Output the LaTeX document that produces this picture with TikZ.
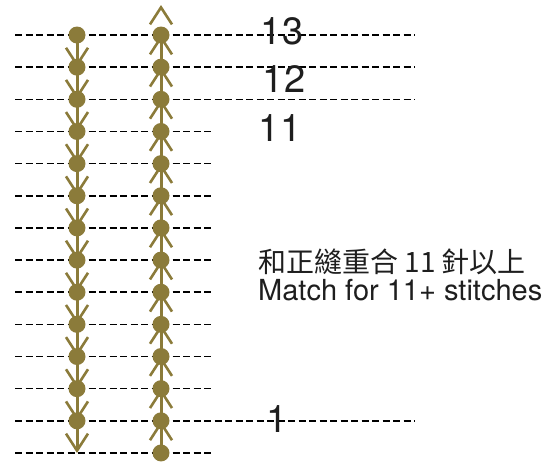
\documentclass[tikz,border=0pt]{standalone}
\usepackage{fontspec}
\setmainfont{TeX Gyre Heros}
\newfontfamily\cjkfont{Noto Sans CJK TC}
\usetikzlibrary{arrows.meta,backgrounds}
\definecolor{StitchOlive}{HTML}{8B7B3A}
\definecolor{StitchInk}{HTML}{1E1E1E}

\begin{document}
\begin{tikzpicture}[x=1pt,y=-1pt,
    stitchdot/.style={circle,fill=StitchOlive,inner sep=0pt,minimum size=17pt},
    seam/.style={
      draw=StitchOlive,
      line width=3pt,
      -{Straight Barb[length=17pt,width=22pt,line width=2.6pt]}
    },
    rowline/.style={draw=black,line width=1.6pt,dash pattern=on 7pt off 3.5pt},
    rowlabel/.style={text=StitchInk,inner sep=0pt,font=\fontsize{38}{40}\selectfont}
  ]

    \useasboundingbox (0,0) rectangle (554,464);

    % rows of the seam
    \foreach \i/\xe in {
      0/415,1/415,2/415,3/213,4/213,5/213,6/213,
      7/213,8/213,9/213,10/213,11/213,12/415,13/213
    }{
      \pgfmathsetmacro{\yy}{35+32.15*\i}
      \coordinate (W\i) at (15,\yy);
      \coordinate (E\i) at (\xe,\yy);
    }

    % stitches, left and right
    \foreach \i in {0,...,12}{
      \pgfmathsetmacro{\yy}{35+32.15*\i}
      \node[stitchdot] (L\i) at (77,\yy) {};
    }
    \foreach \i in {0,...,13}{
      \pgfmathsetmacro{\yy}{35+32.15*\i}
      \node[stitchdot] (R\i) at (161,\yy) {};
    }
    \coordinate (Lend) at (77,453);
    \coordinate (Rtop) at (161,5);

    \begin{scope}[on background layer]
      \foreach \i in {0,...,13}
        \draw[rowline] (W\i) -- (E\i);

      \foreach \i [evaluate=\i as \j using int(\i+1)] in {0,...,11}
        \draw[seam] (L\i.center) -- (L\j.center);
      \draw[seam] (L12.center) -- (Lend);

      \foreach \i [evaluate=\i as \j using int(\i+1)] in {0,...,12}
        \draw[seam] (R\j.center) -- (R\i.center);
      \draw[seam,shorten <=26pt] (R0.center) -- (Rtop);
    \end{scope}

    % stitch counts
    \node[rowlabel] (n13) at (282,31) {13};
    \node[rowlabel] (n12) at (284,79) {12};
    \node[rowlabel] (n11) at (280,128) {11};
    \node[rowlabel] (n1) at (277,419) {1};

    \node[
      anchor=west,
      inner sep=0pt,
      text=StitchInk,
      font=\cjkfont\fontsize{28}{30}\selectfont
    ]
      (zh) at (258,262)
      {和正縫重合 11 針以上};

    \node[
      anchor=base west,
      inner sep=0pt,
      text=StitchInk,
      font=\fontsize{29}{31}\selectfont
    ]
      (en) at (258,300)
      {Match for 11+ stitches};

  \end{tikzpicture}
\end{document}
